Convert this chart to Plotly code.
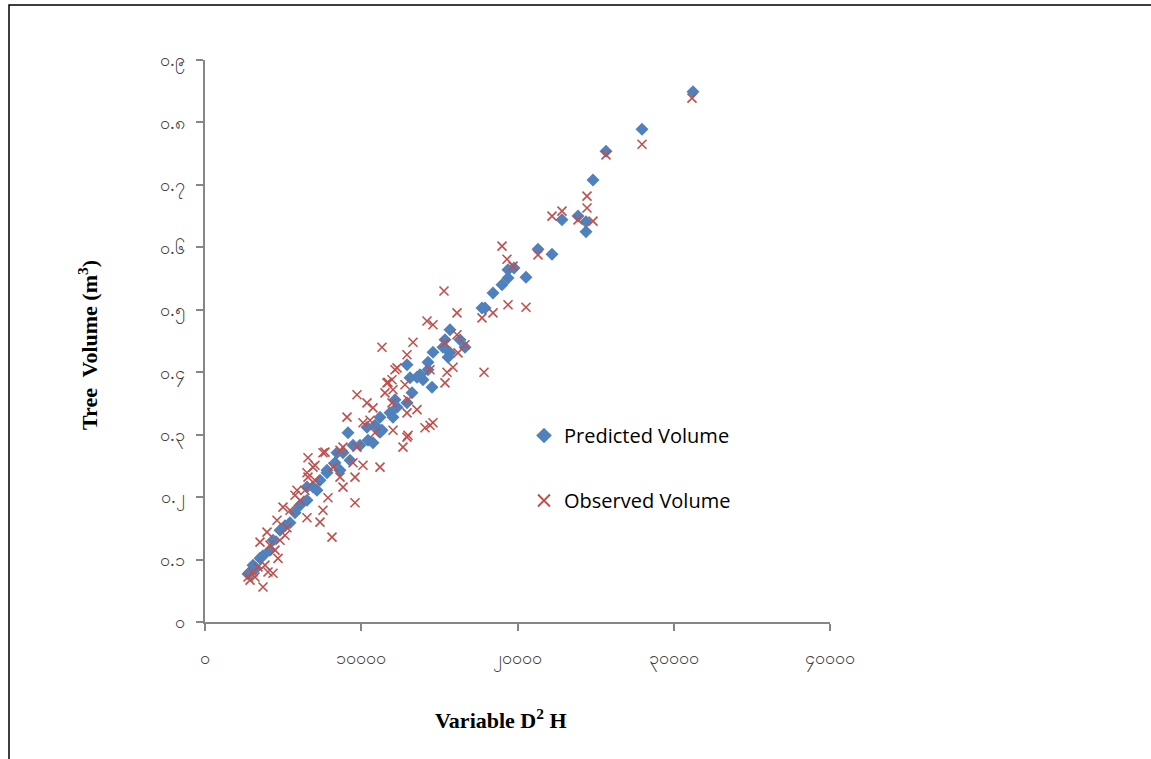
import plotly.graph_objects as go

# Predicted volume (blue diamonds): D2H, volume
pred_x = [31232, 27968, 25664, 24832, 22848, 23872, 24384, 24384, 21312, 22208,
          19392, 19776, 19392, 20544, 19008, 18432, 17728, 17920, 15680, 15360,
          16640, 15680, 15232, 15552, 14592, 14272, 12928, 14272, 13952, 14528,
          13120, 13248, 12928, 12288, 11840, 11200, 11200, 10368, 13568, 12032,
          11328, 10432, 9152, 9472, 8832, 8320, 7808, 7360, 6528, 10752,
          9280, 8448, 7808, 6912, 6528, 5760, 5440, 4800, 4352, 4160,
          3520, 3072, 2880, 3712, 5120, 6080, 7168, 8640, 9920, 10880,
          12160, 13760, 16320, 2752, 3264]
pred_y = [0.849, 0.789, 0.754, 0.708, 0.644, 0.650, 0.641, 0.625, 0.597, 0.589,
          0.564, 0.567, 0.551, 0.552, 0.540, 0.527, 0.503, 0.503, 0.468, 0.452,
          0.440, 0.431, 0.440, 0.424, 0.432, 0.416, 0.412, 0.404, 0.388, 0.376,
          0.391, 0.367, 0.351, 0.344, 0.335, 0.328, 0.304, 0.312, 0.392, 0.328,
          0.307, 0.291, 0.303, 0.283, 0.271, 0.255, 0.243, 0.227, 0.216, 0.287,
          0.259, 0.271, 0.239, 0.216, 0.195, 0.175, 0.159, 0.147, 0.131, 0.115,
          0.102, 0.091, 0.080, 0.106, 0.154, 0.187, 0.211, 0.243, 0.283, 0.315,
          0.356, 0.396, 0.452, 0.077, 0.086]

# Observed volume (red crosses)
obs_x = [31168, 27968, 25664, 24448, 24448, 22848, 22208, 23872, 24832, 19008,
         19328, 19712, 21312, 15296, 16128, 17728, 18432, 19392, 20544, 16128,
         15360, 16192, 16640, 17856, 14208, 14592, 13312, 11328, 12928, 15872,
         15488, 14400, 12160, 15360, 11712, 12800, 12032, 11520, 12992, 11968,
         10368, 10752, 14400, 14080, 12032, 12992, 10560, 10112, 12288, 11648,
         9728, 11968, 13568, 12928, 9088, 14592, 12928, 12672, 10880, 11200,
         9472, 10112, 7552, 6592, 8832, 8192, 6912, 6528, 7040, 8640,
         8832, 7680, 7040, 8640, 9728, 9600, 6592, 5888, 7872, 9600,
         7552, 4992, 6080, 6528, 7360, 4608, 5248, 3968, 3520, 4800,
         8128, 4480, 4672, 3840, 4352, 3072, 2880, 3712, 3392, 5440,
         5760, 6400, 4160, 5120, 3200, 2752, 4032]
obs_y = [0.839, 0.765, 0.748, 0.682, 0.663, 0.658, 0.650, 0.644, 0.642, 0.602,
         0.581, 0.570, 0.588, 0.530, 0.495, 0.487, 0.495, 0.508, 0.504, 0.460,
         0.447, 0.431, 0.444, 0.400, 0.482, 0.476, 0.448, 0.440, 0.428, 0.408,
         0.400, 0.404, 0.404, 0.383, 0.384, 0.380, 0.372, 0.367, 0.356, 0.351,
         0.351, 0.343, 0.315, 0.311, 0.307, 0.299, 0.323, 0.319, 0.407, 0.383,
         0.364, 0.388, 0.340, 0.335, 0.328, 0.319, 0.296, 0.280, 0.303, 0.248,
         0.255, 0.251, 0.271, 0.263, 0.280, 0.248, 0.248, 0.239, 0.227, 0.232,
         0.216, 0.272, 0.251, 0.275, 0.280, 0.232, 0.232, 0.211, 0.199, 0.191,
         0.179, 0.184, 0.195, 0.167, 0.160, 0.163, 0.151, 0.144, 0.128, 0.131,
         0.136, 0.115, 0.102, 0.091, 0.078, 0.080, 0.067, 0.056, 0.088, 0.179,
         0.203, 0.211, 0.123, 0.139, 0.072, 0.072, 0.080]

# Tick labels (Myanmar digits)
x_tickvals = [0, 10000, 20000, 30000, 40000]
x_ticktext = ["၀", "၁၀၀၀၀", "၂၀၀၀၀", "၃၀၀၀၀", "၄၀၀၀၀"]
y_tickvals = [0, 0.1, 0.2, 0.3, 0.4, 0.5, 0.6, 0.7, 0.8, 0.9]
y_ticktext = ["၀", "၀.၁", "၀.၂", "၀.၃", "၀.၄", "၀.၅", "၀.၆", "၀.၇", "၀.၈", "၀.၉"]

W, H = 1151, 759
L, R, T, B = 205, 830, 60, 622

fig = go.Figure()
fig.add_trace(go.Scatter(
    x=pred_x, y=pred_y, mode="markers", name="Predicted Volume",
    legendgroup="a",
    marker=dict(symbol="diamond", size=10, color="#4F81BD", line=dict(width=0)),
))
fig.add_trace(go.Scatter(
    x=obs_x, y=obs_y, mode="markers", name="Observed Volume",
    legendgroup="b",
    marker=dict(symbol="x-thin", size=9, color="#C0504D",
                line=dict(width=1.6, color="#C0504D")),
))

axis_common = dict(
    showgrid=False, zeroline=False, showline=True, linecolor="#868686",
    linewidth=1.5, ticks="outside", ticklen=7, tickcolor="#868686",
    tickwidth=1.5, tickfont=dict(size=18, color="#404040"),
)
fig.update_xaxes(range=[0, 40000], tickvals=x_tickvals, ticktext=x_ticktext,
                 ticklabelstandoff=12, **axis_common)
fig.update_yaxes(range=[0, 0.9], tickvals=y_tickvals, ticktext=y_ticktext,
                 ticklabelstandoff=8, **axis_common)

def px(xp):
    return (xp - L) / (R - L)

def py(yp):
    return (B - yp) / (B - T)

fig.update_layout(
    width=W, height=H,
    margin=dict(l=L, r=W - R, t=T, b=H - B, pad=0),
    paper_bgcolor="white", plot_bgcolor="white",
    showlegend=True,
    legend=dict(x=px(524), y=py(416), xanchor="left", yanchor="top",
                font=dict(family="Open Sans, sans-serif", size=20, color="#000000"),
                tracegroupgap=36, bgcolor="rgba(0,0,0,0)", itemsizing="constant"),
    annotations=[
        dict(text="<b>Tree  Volume (m<sup>3</sup>)</b>", xref="paper", yref="paper",
             x=px(88), y=py(345), xanchor="center", yanchor="middle",
             textangle=-90, showarrow=False,
             font=dict(family="Liberation Serif, Times New Roman, serif", size=22, color="#000")),
        dict(text="<b>Variable D<sup>2</sup> H</b>", xref="paper", yref="paper",
             x=px(501), y=py(719), xanchor="center", yanchor="middle", showarrow=False,
             font=dict(family="Liberation Serif, Times New Roman, serif", size=22, color="#000")),
    ],
    shapes=[
        dict(type="rect", xref="paper", yref="paper",
             x0=px(9), y0=py(5), x1=px(1165), y1=py(775),
             line=dict(color="black", width=1.5), fillcolor="rgba(0,0,0,0)", layer="below"),
    ],
)

fig.write_html("out.html", config={"displayModeBar": False},
               post_script="document.body.style.margin='0px';document.body.style.overflow='hidden';")
